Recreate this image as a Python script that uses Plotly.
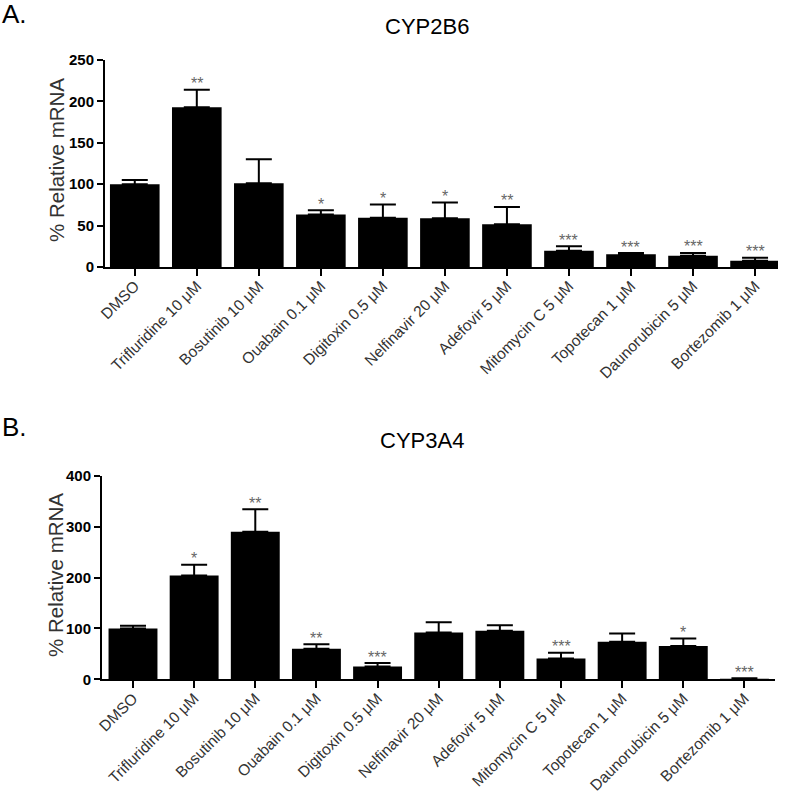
import plotly.graph_objects as go

categories = ["DMSO", "Trifluridine 10 μM", "Bosutinib 10 μM", "Ouabain 0.1 μM",
              "Digitoxin 0.5 μM", "Nelfinavir 20 μM", "Adefovir 5 μM",
              "Mitomycin C 5 μM", "Topotecan 1 μM", "Daunorubicin 5 μM",
              "Bortezomib 1 μM"]

cyp2b6_mean = [100, 193, 101, 63.5, 59.5, 59, 51.5, 19.7, 15.3, 13.7, 7.6]
cyp2b6_err = [5, 21, 29, 5, 16, 19, 21, 5.5, 1.5, 3.3, 3.5]
cyp2b6_sig = ["", "**", "", "*", "*", "*", "**", "***", "***", "***", "***"]

cyp3a4_mean = [100, 204, 290, 60, 25, 92, 95.5, 41, 74, 65.5, 1]
cyp3a4_err = [5, 21, 44, 9, 7, 20, 10.5, 11, 16, 14.5, 1]
cyp3a4_sig = ["", "*", "**", "**", "***", "", "", "***", "", "*", "***"]

W, H = 787, 794
FONT = "Liberation Sans, Arial, sans-serif"

fig = go.Figure()

panels = [
    dict(mean=cyp2b6_mean, err=cyp2b6_err, sig=cyp2b6_sig, xa="x", ya="y",
         yrange=[0, 250], dtick=50, ydom=[1 - 267 / H, 1 - 60 / H],
         xrange=[-0.48, 10.37], xdom=[105 / W, 778 / W]),
    dict(mean=cyp3a4_mean, err=cyp3a4_err, sig=cyp3a4_sig, xa="x2", ya="y2",
         yrange=[0, 400], dtick=100, ydom=[1 - 679.3 / H, 1 - 475.7 / H],
         xrange=[-0.507, 10.5], xdom=[102 / W, 775 / W]),
]

for p in panels:
    xs = list(range(len(categories)))
    fig.add_trace(go.Bar(
        x=xs, y=p["mean"], width=0.8, xaxis=p["xa"], yaxis=p["ya"],
        marker=dict(color="black", line=dict(width=0)),
        error_y=dict(type="data", symmetric=False, array=p["err"],
                     arrayminus=[0] * len(xs), color="black", thickness=2, width=13),
        showlegend=False, hoverinfo="skip",
    ))
    # significance stars above each error bar
    for i, (m, e, s) in enumerate(zip(p["mean"], p["err"], p["sig"])):
        if s:
            fig.add_annotation(x=i, y=m + e, xref=p["xa"], yref=p["ya"], text=s,
                               showarrow=False, yanchor="middle", yshift=6,
                               font=dict(family=FONT, size=16, color="#666"))

axis_common = dict(showgrid=False, zeroline=False, showline=True, linecolor="black",
                   linewidth=2, ticks="outside", tickcolor="black", tickwidth=2,
                   automargin=False)

for i, p in enumerate(panels):
    sfx = "" if i == 0 else "2"
    fig.layout["xaxis" + sfx] = dict(
        axis_common, domain=p["xdom"], range=p["xrange"], anchor="y" + sfx,
        tickmode="array", tickvals=list(range(len(categories))), ticktext=categories,
        tickangle=-45, ticklen=7, ticklabelstandoff=-5,
        tickfont=dict(family=FONT, size=15.5, color="#333"),
    )
    fig.layout["yaxis" + sfx] = dict(
        axis_common, domain=p["ydom"], range=p["yrange"], anchor="x" + sfx,
        dtick=p["dtick"], ticklen=6,
        tickfont=dict(family=FONT, size=15, color="black", weight="bold"),
    )

annotations = [
    dict(text="A.", x=0 / W, y=1 - 14 / H, font=dict(size=26)),
    dict(text="B.", x=0 / W, y=1 - 427 / H, font=dict(size=26)),
    dict(text="CYP2B6", x=427 / W, y=1 - 27 / H, font=dict(size=22), xanchor="center"),
    dict(text="CYP3A4", x=422 / W, y=1 - 441 / H, font=dict(size=22), xanchor="center"),
    dict(text="% Relative mRNA", x=57 / W, y=1 - 160 / H, font=dict(size=20.5, color="#333"),
         textangle=-90, xanchor="center"),
    dict(text="% Relative mRNA", x=55 / W, y=1 - 575 / H, font=dict(size=20.5, color="#333"),
         textangle=-90, xanchor="center"),
]
for a in annotations:
    a.setdefault("xanchor", "left")
    a["font"].setdefault("color", "black")
    a["font"]["family"] = FONT
    fig.add_annotation(xref="paper", yref="paper", showarrow=False, yanchor="middle", **a)

fig.update_layout(
    width=W, height=H, margin=dict(l=0, r=0, t=0, b=0),
    plot_bgcolor="white", paper_bgcolor="white", bargap=0.2,
    font=dict(family=FONT),
)

fig.write_html("out.html", config={"displayModeBar": False},
               post_script="document.body.style.margin='0';")
